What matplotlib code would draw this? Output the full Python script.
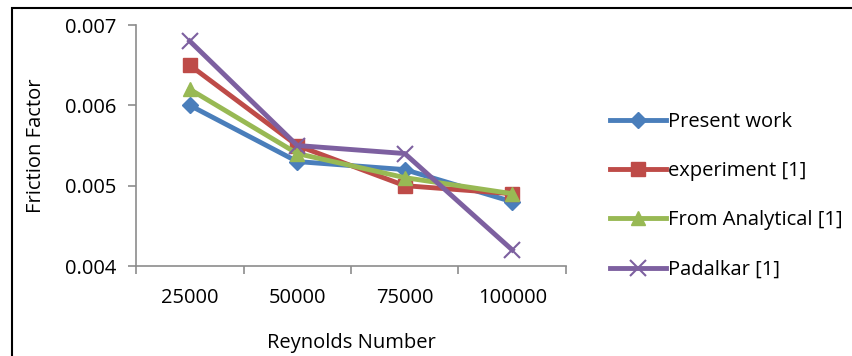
import matplotlib.pyplot as plt
from matplotlib.patches import Rectangle

reynolds = ["25000", "50000", "75000", "100000"]
present_work = [0.0060, 0.0053, 0.0052, 0.0048]
experiment = [0.0065, 0.0055, 0.0050, 0.0049]
analytical = [0.0062, 0.0054, 0.0051, 0.0049]
padalkar = [0.0068, 0.0055, 0.0054, 0.0042]

plt.rcParams["font.family"] = ["Open Sans", "DejaVu Sans"]
fs = 14.5

fig = plt.figure(figsize=(8.52, 3.56), dpi=100)
ax = fig.add_axes([136 / 852, 1 - 266 / 356, 430 / 852, 241 / 356])

x = list(range(len(reynolds)))
ax.plot(x, present_work, color="#4A7EBB", lw=3.5, marker="D", ms=8, label="Present work")
ax.plot(x, experiment, color="#BE4B48", lw=3.5, marker="s", ms=10, label="experiment [1]")
ax.plot(x, analytical, color="#98B954", lw=3.5, marker="^", ms=10, label="From Analytical [1]")
ax.plot(x, padalkar, color="#7D60A0", lw=3.5, marker="x", ms=11, mew=1.5, label="Padalkar [1]")

ax.set_xlim(-0.5, 3.5)
ax.set_ylim(0.004, 0.007)
ax.set_yticks([0.004, 0.005, 0.006, 0.007])
ax.set_yticklabels(["0.004", "0.005", "0.006", "0.007"])
ax.set_xticks([-0.5, 0.5, 1.5, 2.5, 3.5])
ax.set_xticklabels([])
ax.set_xticks(x, minor=True)
ax.set_xticklabels(reynolds, minor=True)
ax.tick_params(axis="x", which="minor", length=0, pad=16, labelsize=fs)
ax.tick_params(axis="x", which="major", length=6, color="#8C8C8C", width=1.2)
ax.tick_params(axis="y", length=6, color="#8C8C8C", width=1.2, labelsize=fs, pad=8)

for s in ["top", "right"]:
    ax.spines[s].set_visible(False)
for s in ["left", "bottom"]:
    ax.spines[s].set_color("#8C8C8C")
    ax.spines[s].set_linewidth(1.2)

ax.set_xlabel("Reynolds Number", fontsize=fs, labelpad=18)
ax.set_ylabel("Friction Factor", fontsize=fs, labelpad=14)

fig.legend(loc="upper left", bbox_to_anchor=(602 / 852, 1 - 104 / 356),
           frameon=False, fontsize=fs, handlelength=2.8, handletextpad=0.1,
           labelspacing=1.45, borderaxespad=0)

fig.patches.append(Rectangle((12 / 852, -0.1), 1.2, 1 - 8 / 356 + 0.1,
                             transform=fig.transFigure, fill=False,
                             edgecolor="black", lw=1.5))

fig.savefig("out.png", dpi=100)
